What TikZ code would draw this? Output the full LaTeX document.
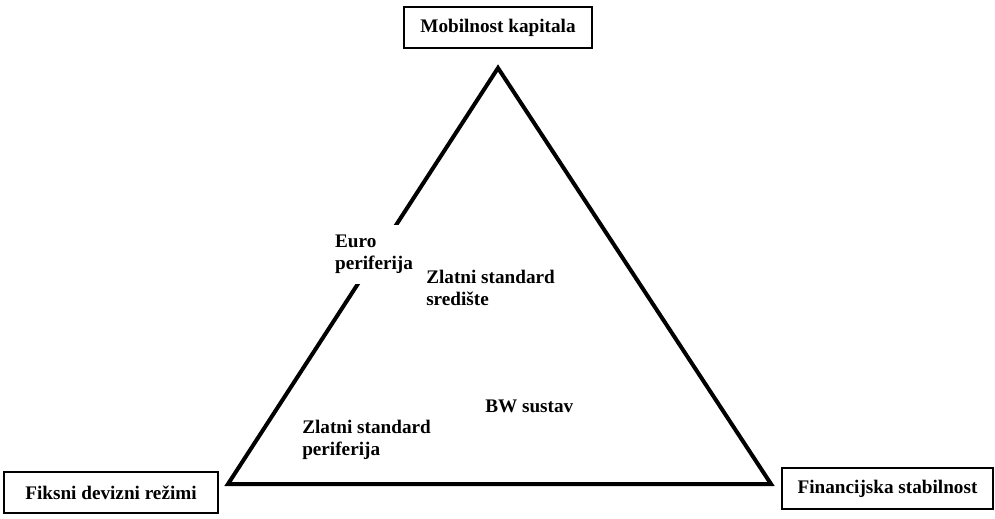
\documentclass[tikz,border=0pt]{standalone}
\usepackage{fontspec}
\setmainfont{Liberation Serif}
\usetikzlibrary{positioning}

\begin{document}
\begin{tikzpicture}[x=0.75pt, y=-0.75pt,
		corner/.style={draw, line width=1.5pt, minimum height=30.5pt, inner sep=0pt, font=\fontsize{14.4}{16}\selectfont\bfseries},
		lbl/.style={align=left, anchor=base west, inner sep=0pt, font=\fontsize{14.4}{15.8}\selectfont\bfseries}]
		%%%%% START %%%%%
		
		\useasboundingbox (0, 0) rectangle (995, 518);
		
		\coordinate (top) at (498, 68);
		\coordinate (left) at (228, 484);
		\coordinate (right) at (771, 484);
		
		\draw[line width=3pt, line join=miter] (top) -- (right) -- (left) -- cycle;
		
		\node[corner, minimum width=141pt] (mobil) at (498, 27.5) {Mobilnost kapitala};
		\node[corner, minimum width=160.5pt] (fiks) at (111, 492.5) {Fiksni devizni režimi};
		\node[corner, minimum width=158pt] (finstab) at (887.5, 488.5) {Financijska stabilnost};
		
		% two-line labels sit on the baseline of their last line
		\node[lbl, fill=white, inner xsep=4pt, inner ysep=8pt] (euro) at (329.5, 269) {Euro\\periferija};
		\node[lbl] (zssred) at (426, 305) {Zlatni standard\\središte};
		\node[lbl] (bw) at (485, 412) {BW sustav};
		\node[lbl] (zsper) at (302, 455) {Zlatni standard\\periferija};
		
		%%%%% END %%%%%
	\end{tikzpicture}
\end{document}
